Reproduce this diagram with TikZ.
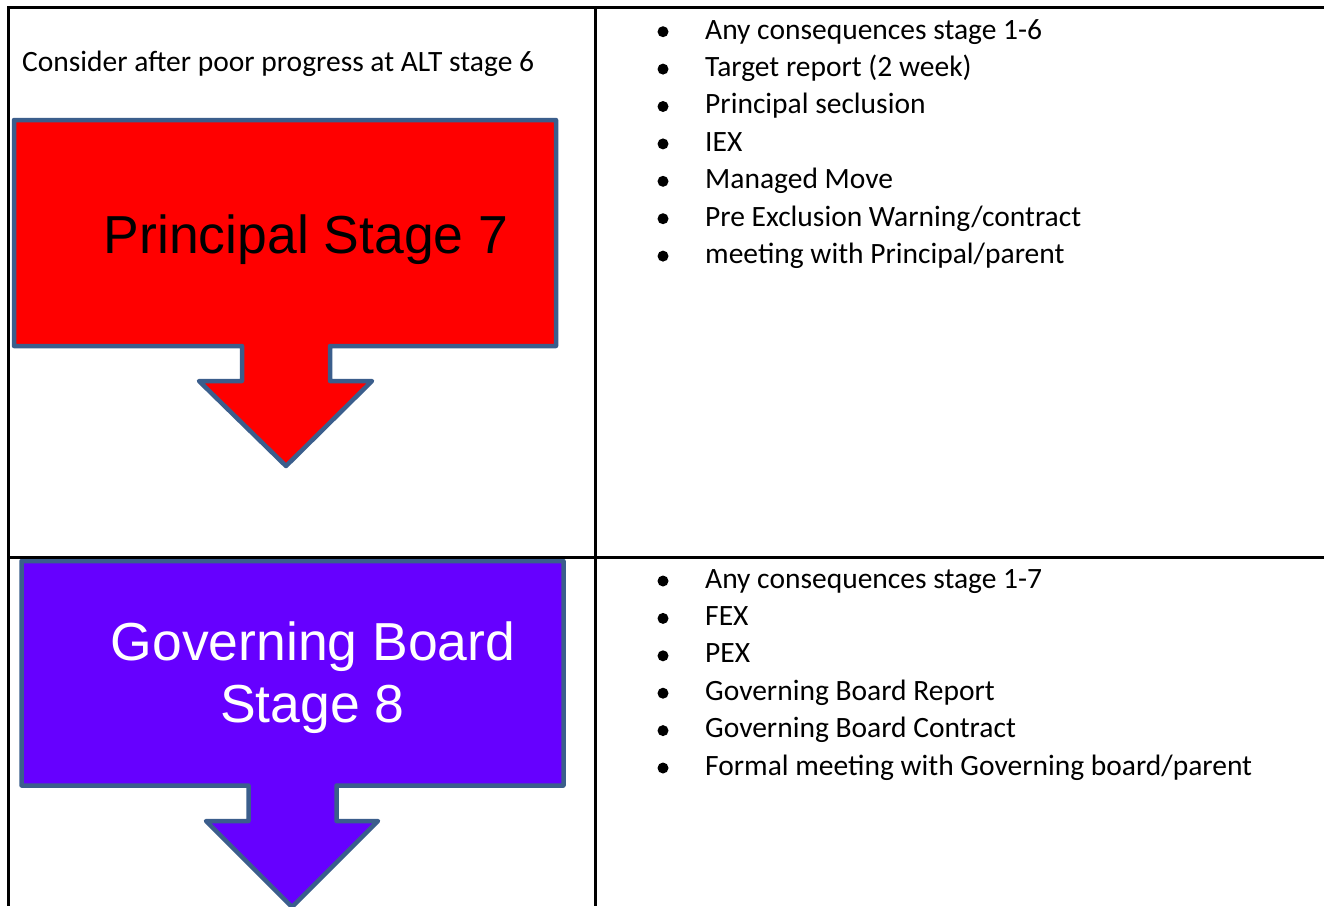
\documentclass[tikz,border=0pt]{standalone}
\usepackage{fontspec}
\setmainfont{Carlito}
\newfontfamily\arialf{Liberation Sans}
\definecolor{arrowline}{HTML}{3B5E8C}
\definecolor{redfill}{HTML}{FF0000}
\definecolor{purplefill}{HTML}{6600FF}
\begin{document}
\begin{tikzpicture}[x=1pt,y=-1pt,
  body/.style={font=\fontsize{29.5}{35}\selectfont, anchor=base west, inner sep=0pt},
  big/.style={font=\arialf\fontsize{53.5}{61}\selectfont, anchor=base, inner sep=0pt},
  stagearrow/.style={draw=arrowline, line width=4.5pt, line join=round},
  gridline/.style={line width=3pt, black},
  bulletdot/.style={circle, fill=black, minimum size=11pt, inner sep=0pt}]
\useasboundingbox (0,0) rectangle (1324,906);
\fill[white] (0,0) rectangle (1324,906);

% stage arrows
\draw[stagearrow, fill=redfill] (14,120) -- (556,120) -- (556,346) -- (330,346) -- (330,381) -- (372,381) -- (286,466) -- (199,381) -- (242,381) -- (242,346) -- (14,346) -- cycle;
\draw[stagearrow, fill=purplefill] (21.5,561) -- (563.5,561) -- (563.5,785.5) -- (336.5,785.5) -- (336.5,821) -- (378,821) -- (292,907) -- (206,821) -- (248.5,821) -- (248.5,785.5) -- (21.5,785.5) -- cycle;

% table rules
\draw[gridline] (1324,7) -- (8,7) -- (8,906);
\draw[gridline] (595,7) -- (595,906);
\draw[gridline] (8,557.3) -- (1324,557.3);

% texts
\node[body] (consider) at (22,71) {Consider af{}ter poor progress at ALT stage 6};
\node[big] (p7) at (306,253) {Principal Stage 7};
\node[big, white] (gb) at (313,660) {Governing Board};
\node[big, white] (s8) at (312.5,722) {Stage 8};

\foreach \t [count=\i from 0] in {Any consequences stage 1-6, Target report (2 week), Principal seclusion, IEX, Managed Move, Pre Exclusion Warning/contract, meeting with Principal/parent} {
  \node[bulletdot] (ba\i) at (663, 31.7+37.4*\i) {};
  \node[body] (ta\i) at (705, 39+37.4*\i) {\t};
}
\foreach \t [count=\i from 0] in {Any consequences stage 1-7, FEX, PEX, Governing Board Report, Governing Board Contract, Formal meeting with Governing board/parent} {
  \node[bulletdot] (bb\i) at (663, 581+37.4*\i) {};
  \node[body] (tb\i) at (705, 588+37.4*\i) {\t};
}
\end{tikzpicture}
\end{document}
